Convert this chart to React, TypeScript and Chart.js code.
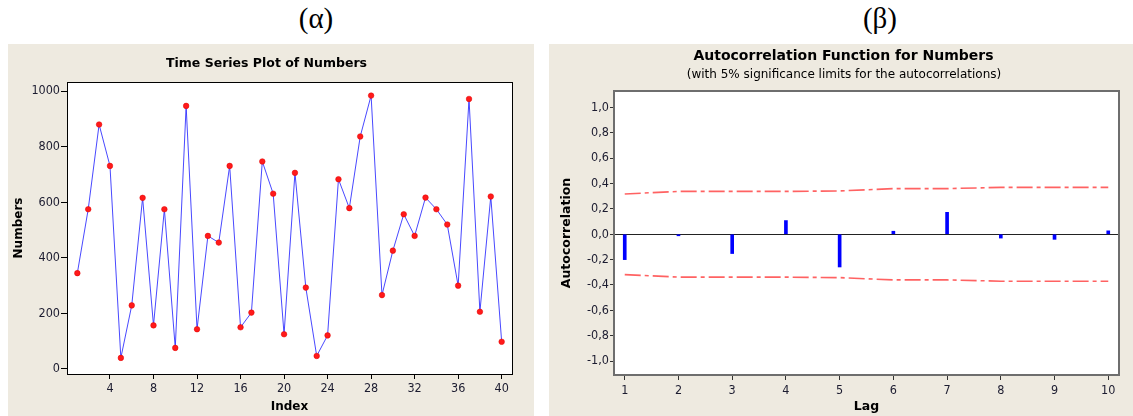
import React, { useEffect, useRef } from "react";
import { Chart, registerables } from "chart.js";
Chart.register(...registerables);

// ---------- data: time series ----------
const indexValues = [1, 2, 3, 4, 5, 6, 7, 8, 9, 10, 11, 12, 13, 14, 15, 16, 17, 18, 19, 20, 21, 22, 23, 24, 25, 26, 27, 28, 29, 30, 31, 32, 33, 34, 35, 36, 37, 38, 39, 40];
const numbers = [345, 575, 880, 731, 40, 229, 616, 157, 575, 76, 947, 143, 479, 455, 731, 150, 203, 747, 631, 125, 706, 293, 47, 121, 683, 579, 837, 984, 266, 426, 557, 479, 617, 575, 520, 300, 972, 206, 621, 98];
const tsTicksX = [4, 8, 12, 16, 20, 24, 28, 32, 36, 40];
const tsTicksY = [0, 200, 400, 600, 800, 1000];

// ---------- data: autocorrelation ----------
const lags = [1, 2, 3, 4, 5, 6, 7, 8, 9, 10];
const acf = [-0.2, -0.012, -0.152, 0.108, -0.258, 0.024, 0.173, -0.03, -0.04, 0.027];
const upperLimit = [0.318, 0.338, 0.338, 0.338, 0.342, 0.36, 0.36, 0.37, 0.37, 0.37];
const lowerLimit = [-0.318, -0.338, -0.338, -0.338, -0.342, -0.36, -0.36, -0.37, -0.37, -0.37];
const acfTicksX = [1, 2, 3, 4, 5, 6, 7, 8, 9, 10];
const acfTicksY = [-1, -0.8, -0.6, -0.4, -0.2, 0, 0.2, 0.4, 0.6, 0.8, 1];

const TICK_FONT = "'DejaVu Sans Condensed', 'DejaVu Sans', sans-serif";
const SANS = "'DejaVu Sans', sans-serif";
const BEIGE = "#EEEAE0";
const TICK_COLOR = "#1c1c30";

function framePlugin(color: string, width: number, zeroLine: boolean) {
  return {
    id: "frame",
    beforeDraw(chart: any) {
      const { ctx, chartArea: a } = chart;
      ctx.save();
      ctx.fillStyle = "#ffffff";
      ctx.fillRect(a.left, a.top, a.right - a.left, a.bottom - a.top);
      ctx.restore();
    },
    beforeDatasetsDraw(chart: any) {
      if (!zeroLine) return;
      const { ctx, chartArea: a } = chart;
      const y = Math.round(chart.scales.y.getPixelForValue(0)) + 0.5;
      ctx.save();
      ctx.strokeStyle = "#222";
      ctx.lineWidth = 1;
      ctx.beginPath();
      ctx.moveTo(a.left, y);
      ctx.lineTo(a.right, y);
      ctx.stroke();
      ctx.restore();
    },
    afterDraw(chart: any) {
      const { ctx, chartArea: a } = chart;
      ctx.save();
      ctx.strokeStyle = color;
      ctx.lineWidth = width;
      const off = width % 2 === 1 ? 0.5 : 0;
      ctx.strokeRect(Math.round(a.left) + off, Math.round(a.top) + off, Math.round(a.right - a.left), Math.round(a.bottom - a.top));
      ctx.restore();
    },
  };
}

function TimeSeriesChart() {
  const ref = useRef<HTMLCanvasElement>(null);
  useEffect(() => {
    if (!ref.current) return;
    const chart = new Chart(ref.current, {
      type: "line",
      data: {
        datasets: [
          {
            data: indexValues.map((x, i) => ({ x, y: numbers[i] })),
            borderColor: "rgba(40,40,255,0.85)",
            borderWidth: 1,
            pointRadius: 2.8,
            pointBackgroundColor: "#ff1a1a",
            pointBorderColor: "#e00000",
            pointBorderWidth: 0.5,
            tension: 0,
          },
        ],
      },
      options: {
        responsive: false,
        animation: false,
        devicePixelRatio: 1,
        layout: { padding: { left: 0, top: 38, right: 22, bottom: 0 } },
        plugins: { legend: { display: false }, tooltip: { enabled: false }, title: { display: false } },
        scales: {
          x: {
            type: "linear",
            min: 0.05,
            max: 40.95,
            offset: false,
            afterBuildTicks: (axis: any) => { axis.ticks = tsTicksX.map((v) => ({ value: v })); },
            afterFit: (axis: any) => { axis.height = 42; },
            grid: { display: true, drawOnChartArea: false, drawTicks: true, tickLength: 5, color: "#000" },
            border: { display: false },
            ticks: { color: TICK_COLOR, font: { family: TICK_FONT, size: 12.5 }, padding: 2, maxRotation: 0, autoSkip: false, callback: (v: any) => String(v) },
            title: { display: true, text: "Index", color: "#000", font: { family: SANS, size: 12, weight: "bold" }, padding: { top: 0, bottom: 2 } },
          },
          y: {
            type: "linear",
            min: -18,
            max: 1033,
            afterBuildTicks: (axis: any) => { axis.ticks = tsTicksY.map((v) => ({ value: v })); },
            afterFit: (axis: any) => { axis.width = 59; },
            grid: { display: true, drawOnChartArea: false, drawTicks: true, tickLength: 6, color: "#000" },
            border: { display: false },
            ticks: { color: TICK_COLOR, font: { family: TICK_FONT, size: 12.5 }, padding: 1, autoSkip: false, callback: (v: any) => String(v) },
            title: { display: true, text: "Numbers", color: "#000", font: { family: SANS, size: 12, weight: "bold" }, padding: { top: 3.5, bottom: 0 } },
          },
        },
      },
      plugins: [framePlugin("#000", 1, false)],
    } as any);
    return () => chart.destroy();
  }, []);
  return <canvas ref={ref} width={526} height={372} style={{ display: "block" }} />;
}

function AcfChart() {
  const ref = useRef<HTMLCanvasElement>(null);
  useEffect(() => {
    if (!ref.current) return;
    const limitStyle = {
      type: "line",
      borderColor: "rgba(255,70,70,0.85)",
      borderWidth: 1.6,
      borderDash: [16, 4, 4, 4],
      pointRadius: 0,
      tension: 0,
      fill: false,
    };
    const chart = new Chart(ref.current, {
      type: "bar",
      data: {
        datasets: [
          {
            type: "bar",
            data: lags.map((x, i) => ({ x, y: acf[i] })),
            backgroundColor: "#0000ff",
            borderWidth: 0,
            barThickness: 3,
          },
          { ...limitStyle, data: lags.map((x, i) => ({ x, y: upperLimit[i] })) },
          { ...limitStyle, data: lags.map((x, i) => ({ x, y: lowerLimit[i] })) },
        ],
      },
      options: {
        responsive: false,
        animation: false,
        devicePixelRatio: 1,
        layout: { padding: { left: 0, top: 47, right: 14, bottom: 0 } },
        plugins: { legend: { display: false }, tooltip: { enabled: false }, title: { display: false } },
        scales: {
          x: {
            type: "linear",
            min: 0.8,
            max: 10.2,
            offset: false,
            afterBuildTicks: (axis: any) => { axis.ticks = acfTicksX.map((v) => ({ value: v })); },
            afterFit: (axis: any) => { axis.height = 41; },
            grid: { display: true, offset: false, drawOnChartArea: false, drawTicks: true, tickLength: 5, color: "#333" },
            border: { display: false },
            ticks: { color: TICK_COLOR, font: { family: TICK_FONT, size: 12.5 }, padding: 3, maxRotation: 0, autoSkip: false, callback: (v: any) => String(v) },
            title: { display: true, text: "Lag", color: "#000", font: { family: SANS, size: 12.5, weight: "bold" }, padding: { top: 0, bottom: 2 } },
          },
          y: {
            type: "linear",
            min: -1.11,
            max: 1.13,
            afterBuildTicks: (axis: any) => { axis.ticks = acfTicksY.map((v) => ({ value: v })); },
            afterFit: (axis: any) => { axis.width = 65; },
            grid: { display: true, drawOnChartArea: false, drawTicks: true, tickLength: 4, color: "#333" },
            border: { display: false },
            ticks: {
              color: TICK_COLOR,
              font: { family: TICK_FONT, size: 12.5 },
              padding: 1,
              autoSkip: false,
              callback: (v: any) => Number(v).toFixed(1).replace(".", ",").replace("-0,0", "0,0"),
            },
            title: { display: true, text: "Autocorrelation", color: "#000", font: { family: SANS, size: 12.5, weight: "bold" }, padding: { top: 10, bottom: 0 } },
          },
        },
      },
      plugins: [framePlugin("#6e6e6e", 2, true)],
    } as any);
    return () => chart.destroy();
  }, []);
  return <canvas ref={ref} width={584} height={372} style={{ display: "block" }} />;
}

const centered = (x: number, y: number): React.CSSProperties => ({
  position: "absolute",
  left: x,
  top: y,
  transform: "translate(-50%, -50%)",
  whiteSpace: "nowrap",
  lineHeight: 1,
  color: "#000",
});

export default function App() {
  return (
    <div style={{ position: "absolute", left: 0, top: 0, width: 1133, height: 416, background: "#fff", overflow: "hidden" }}>
      <div style={{ ...centered(316, 18), fontFamily: "'Liberation Serif', 'DejaVu Serif', serif", fontSize: 29 }}>(α)</div>
      <div style={{ ...centered(880, 18), fontFamily: "'Liberation Serif', 'DejaVu Serif', serif", fontSize: 29 }}>(β)</div>

      <div style={{ position: "absolute", left: 8, top: 44, width: 526, height: 372, background: BEIGE }}>
        <TimeSeriesChart />
        <div style={{ ...centered(258.5, 19), fontFamily: SANS, fontSize: 12.5, fontWeight: "bold" }}>Time Series Plot of Numbers</div>
      </div>

      <div style={{ position: "absolute", left: 549, top: 44, width: 584, height: 372, background: BEIGE }}>
        <AcfChart />
        <div style={{ ...centered(294.5, 11), fontFamily: SANS, fontSize: 14, fontWeight: "bold" }}>Autocorrelation Function for Numbers</div>
        <div style={{ ...centered(295, 29.5), fontFamily: SANS, fontSize: 12 }}>(with 5% significance limits for the autocorrelations)</div>
      </div>
    </div>
  );
}
